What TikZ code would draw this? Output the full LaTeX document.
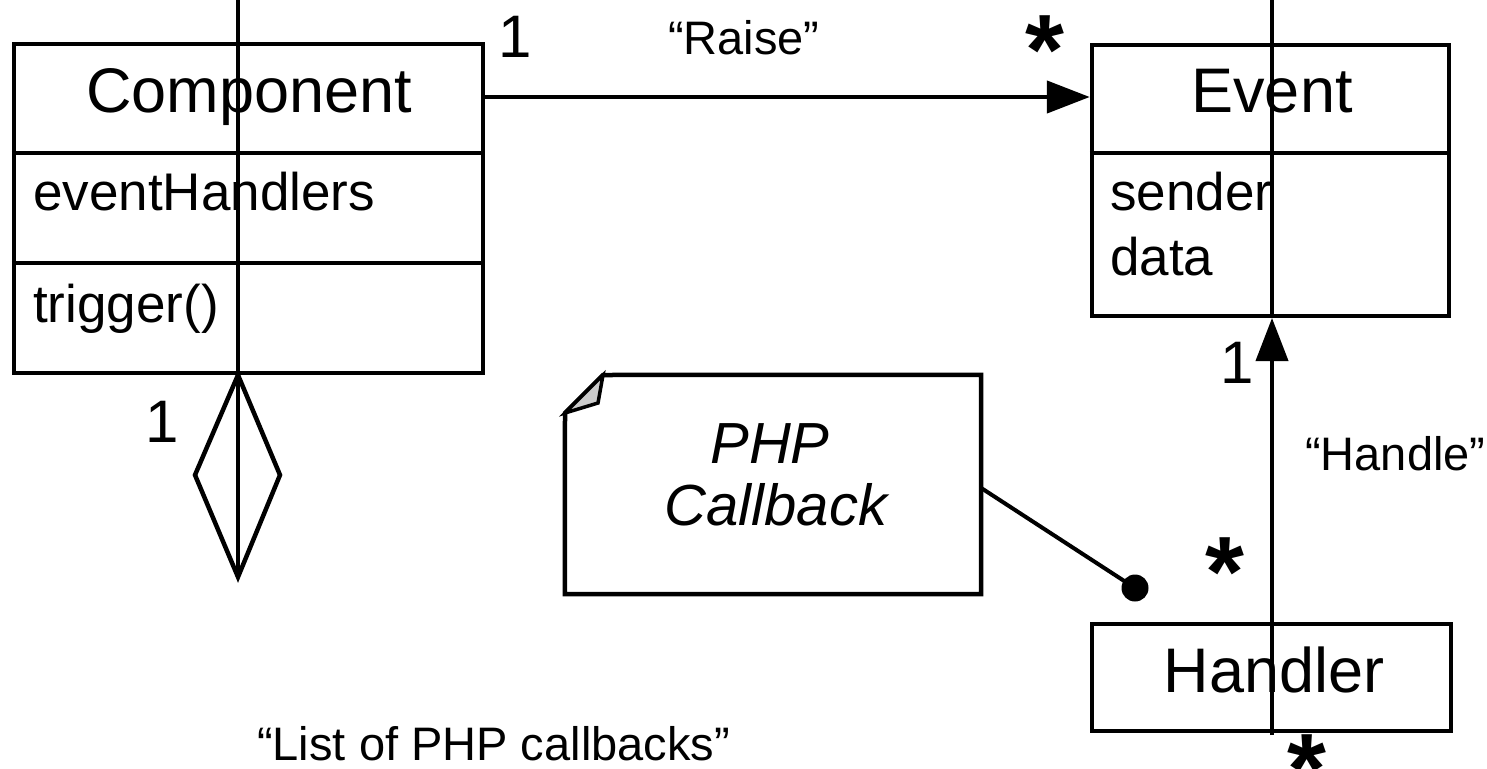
\documentclass[tikz,border=0pt]{standalone}
\usepackage{fontspec}
\setmainfont{Liberation Sans}
\usetikzlibrary{arrows.meta}
\tikzset{
  box/.style={draw, line width=4.5pt, inner sep=0pt, minimum width=#1},
  ln/.style={line width=4.5pt},
  vln/.style={line width=4pt},
  title/.style={inner sep=0pt, anchor=base, font=\fontsize{63}{70}\selectfont},
  attr/.style={inner sep=0pt, anchor=base west, font=\fontsize{53}{60}\selectfont},
  lbl/.style={inner sep=0pt, anchor=base west, font=\fontsize{47}{54}\selectfont},
  mult/.style={inner sep=0pt, anchor=base west, font=\fontsize{60}{66}\selectfont},
  star/.style={inner sep=0pt, anchor=base west, font=\fontsize{100}{100}\selectfont\bfseries},
  tri/.style={-{Triangle[length=43pt,width=32pt]}}
}
\begin{document}
\begin{tikzpicture}[x=1pt,y=-1pt]
\useasboundingbox (0,0) rectangle (1487,768);
% Component
\node[box=469pt, minimum height=329pt] (comp) at (248.5,208.5) {};
\draw[ln] (comp.west |- 0,153) coordinate (c1w) -- (comp.east |- 0,153) coordinate (c1e);
\draw[ln] (comp.west |- 0,263) coordinate (c2w) -- (comp.east |- 0,263) coordinate (c2e);
\node[title] (compname) at (249,112) {Component};
\node[attr] (compattr) at (33,210) {eventHandlers};
\node[attr] (compop) at (33,322) {trigger()};
% Event
\node[box=357pt, minimum height=271pt] (event) at (1270.5,180.5) {};
\draw[ln] (event.west |- 0,153) coordinate (e1w) -- (event.east |- 0,153) coordinate (e1e);
\node[title] (eventname) at (1272,112) {Event};
\node[attr] (sender) at (1110,210) {sender};
\node[attr] (data) at (1110,275) {data};
% Handler
\node[box=359pt, minimum height=107pt] (handler) at (1271.5,677.5) {};
\node[title] (handlername) at (1274,692) {Handler};
% Note
\node[inner sep=0pt, minimum width=416pt, minimum height=219pt] (note) at (773,484.5) {};
\draw[ln, line join=miter] (565,413) coordinate (nf1) -- (603,375) coordinate (nf2) -- (note.north east) -- (note.south east) -- (note.south west) -- cycle;
\filldraw[line width=3.5pt, fill=gray!40, line join=miter] (nf2) -- (598,403) coordinate (nf3) -- (nf1) -- cycle;
\node[inner sep=0pt, font=\fontsize{58}{62}\selectfont\itshape, anchor=base] (notet1) at (770,463) {PHP};
\node[inner sep=0pt, font=\fontsize{58}{62}\selectfont\itshape, anchor=base] (notet2) at (776,525) {Callback};
% vertical line through Component and diamond
\coordinate (ctop) at (238,0);
\coordinate (dtop) at (238,375);
\coordinate (dleft) at (195,475);
\coordinate (dbot) at (238,577);
\coordinate (dright) at (280,475);
\draw[vln] (ctop) -- (dbot);
\draw[ln, line join=miter] (dtop) -- (dleft) -- (dbot) -- (dright) -- cycle;
% Raise association
\draw[ln, tri] (comp.east |- 0,97) -- (event.west |- 0,97);
% vertical line through Event and Handler
\coordinate (etop) at (1272,0);
\coordinate (ebot) at (1272,318);
\coordinate (hbot) at (1272,735);
\draw[vln] (etop) -- (ebot);
\draw[vln, tri] (hbot) -- (ebot);
% note connector
\coordinate (dot) at (1135,588);
\draw[vln] (note.east |- 0,488) -- (dot);
\fill (dot) circle (13.5);
% labels
\node[lbl] (raise) at (668,55) {“Raise”};
\node[lbl] (handle) at (1305,470) {“Handle”};
\node[lbl] (list) at (257,760) {“List of PHP callbacks”};
\node[mult] (m1) at (498,57) {1};
\node[mult] (m2) at (145,442) {1};
\node[mult] (m3) at (1220,383) {1};
\node[star] (s1) at (1025,84) {*};
\node[star] (s2) at (1205,606) {*};
\node[star] (s3) at (1287,803) {*};
\end{tikzpicture}
\end{document}
